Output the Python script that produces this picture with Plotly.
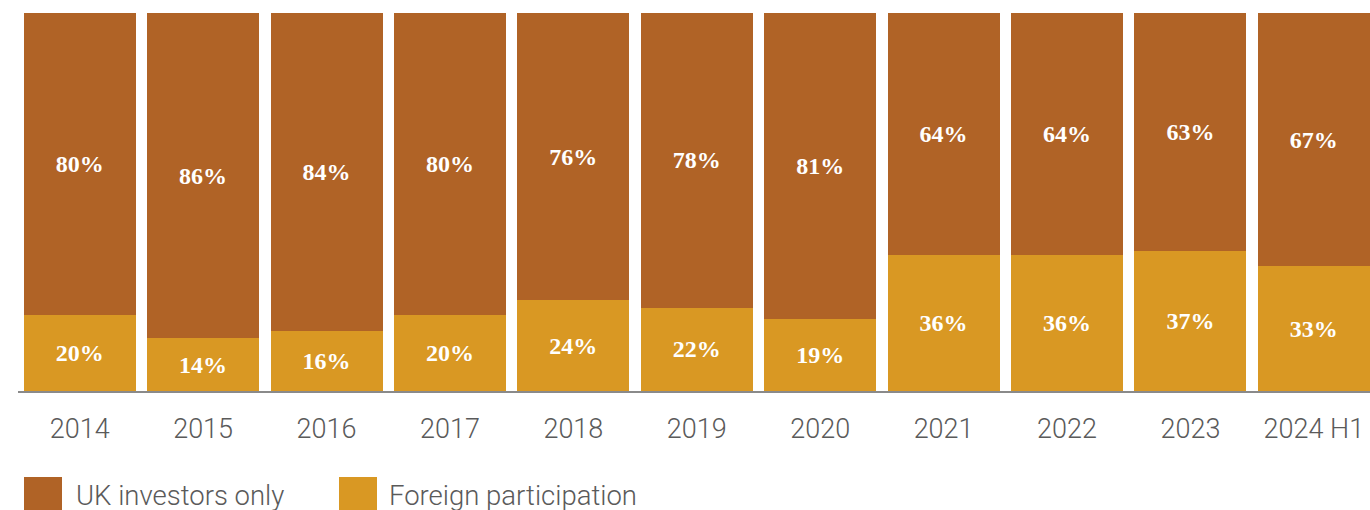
import plotly.graph_objects as go

years = ["2014", "2015", "2016", "2017", "2018", "2019", "2020", "2021", "2022", "2023", "2024 H1"]
uk_only = [80, 86, 84, 80, 76, 78, 81, 64, 64, 63, 67]
foreign = [20, 14, 16, 20, 24, 22, 19, 36, 36, 37, 33]

BROWN = "#B06326"
GOLD = "#D99823"
W, H = 1370, 510
ML, MR, MT, MB = 18, 0, 13, 119
PW = W - ML - MR
PH = H - MT - MB

label_font = dict(family="Liberation Serif", size=24, color="white", weight="bold")

fig = go.Figure()
fig.add_trace(go.Bar(x=years, y=foreign, name="Foreign participation", marker_color=GOLD,
                     marker_line_width=0, text=[f"{v}%" for v in foreign],
                     textposition="inside", insidetextanchor="middle", textangle=0,
                     textfont=label_font, hoverinfo="skip"))
fig.add_trace(go.Bar(x=years, y=uk_only, name="UK investors only", marker_color=BROWN,
                     marker_line_width=0, text=[f"{v}%" for v in uk_only],
                     textposition="inside", insidetextanchor="middle", textangle=0,
                     textfont=label_font, hoverinfo="skip"))

def px_x(p):
    return (p - ML) / PW

def px_y(p):
    return (H - MB - p) / PH

legend_items = [("UK investors only", BROWN, 24, 74), ("Foreign participation", GOLD, 339, 387)]
shapes = []
annotations = []
for label, color, sx, tx in legend_items:
    shapes.append(dict(type="rect", xref="paper", yref="paper",
                       x0=px_x(sx), x1=px_x(sx + 38), y0=px_y(477), y1=px_y(516),
                       fillcolor=color, line_width=0, layer="above"))
    annotations.append(dict(text=label, xref="paper", yref="paper", x=px_x(tx), y=px_y(496),
                            xanchor="left", yanchor="middle", showarrow=False,
                            font=dict(family="Roboto", size=27.5, color="#5a5a5a", weight=300)))

fig.update_layout(
    width=W, height=H, margin=dict(l=ML, r=MR, t=MT, b=MB, pad=0),
    barmode="stack", bargap=0.093, showlegend=False,
    plot_bgcolor="white", paper_bgcolor="white",
    shapes=shapes, annotations=annotations,
    uniformtext=dict(mode=False),
)
fig.update_xaxes(type="category", range=[-0.5, 10.455], showgrid=False, zeroline=False,
                 showline=True, linecolor="#8a8a8a", linewidth=1.5, ticks="",
                 ticklabelstandoff=13,
                 tickfont=dict(family="Roboto", size=27, color="#5a5a5a", weight=300))
fig.update_yaxes(range=[0, 100], visible=False, showgrid=False, zeroline=False)

fig.write_html("out.html")
